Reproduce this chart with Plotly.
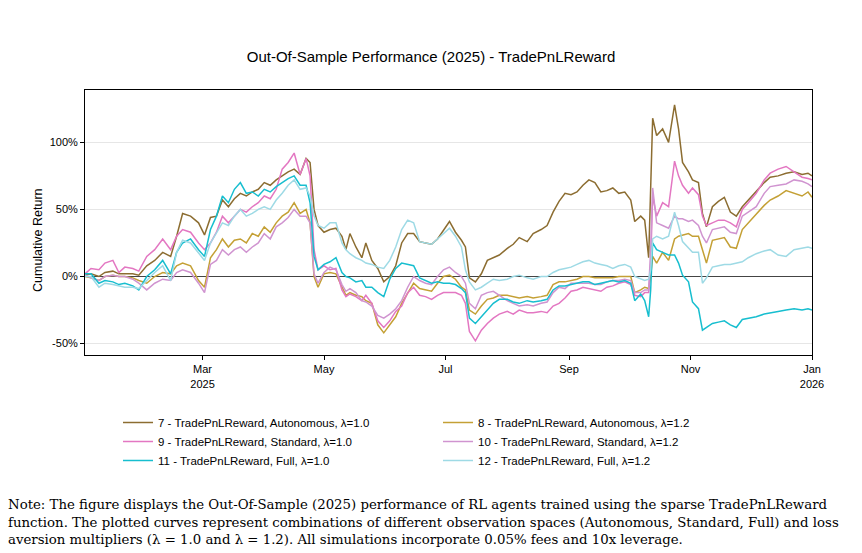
import pandas as pd
import plotly.graph_objects as go

# day offsets from 2025-01-01
days = [0,3,7,10,14,17,20,24,27,31,
        35,39,43,46,49,53,57,60,63,66,
        69,72,75,78,81,84,87,90,93,96,
        99,102,105,108,111,113,115,117,120,123,
        126,129,131,133,136,139,141,144,147,150,
        153,156,159,162,165,168,171,174,177,180,
        183,186,189,191,193,196,199,202,205,208,
        212,215,218,222,225,229,232,235,238,241,
        244,247,250,253,256,259,262,265,268,271,
        274,276,279,281,283,284,285,287,290,293,
        296,298,300,303,305,308,310,312,315,318,
        321,324,327,330,333,337,341,344,348,352,
        356,360,363,365]

s7 = [1,2,0,3,4,2,2,2,1,8,
      12,18,15,30,47,45,40,31,44,45,
      57,52,58,62,60,63,65,70,68,72,
      75,78,80,76,88,85,50,38,33,35,
      36,30,20,32,22,14,25,12,6,-4,
      0,8,25,32,32,26,25,24,28,35,
      41,33,27,22,-1,-4,2,12,14,16,
      21,24,29,26,32,35,38,48,56,62,
      61,63,68,72,70,63,64,66,62,63,
      57,41,45,42,14,65,118,105,110,100,
      128,110,85,78,72,70,47,37,52,56,
      59,48,45,52,57,64,70,74,75,77,
      78,76,77,75]
s8 = [0,-1,-3,0,1,0,0,-1,-3,-5,
      0,3,2,8,10,8,-3,-8,14,20,
      28,22,27,28,25,32,30,37,33,40,
      45,48,55,47,50,40,0,-8,2,3,
      2,-8,-14,-12,-14,-15,-18,-20,-36,-42,
      -36,-30,-20,-12,-5,-9,-10,-11,-5,0,
      1,-2,-8,-10,-25,-28,-22,-17,-16,-14,
      -14,-15,-16,-15,-16,-15,-14,-6,-4,-4,
      -3,-2,0,0,-1,-1,-1,-1,0,0,
      0,-12,-10,-8,-9,0,15,10,18,12,
      28,30,31,32,30,30,20,10,27,28,
      29,22,21,35,40,47,53,57,60,64,
      62,60,63,59]
s9 = [2,6,5,10,12,3,7,6,4,15,
      20,28,20,30,35,33,25,20,25,33,
      45,40,45,50,48,52,55,60,58,65,
      80,85,92,76,88,75,20,5,8,5,
      6,-10,-15,-13,-15,-18,-14,-20,-33,-38,
      -33,-26,-22,-12,-8,-14,-15,-17,-14,-12,
      -12,-12,-14,-20,-41,-48,-40,-35,-31,-28,
      -26,-28,-25,-27,-27,-26,-27,-22,-20,-16,
      -11,-10,-8,-9,-10,-11,-8,-7,-5,-4,
      -6,-14,-15,-12,-12,10,60,45,55,52,
      86,75,68,62,66,61,45,38,40,42,
      42,40,37,50,55,62,72,77,80,82,
      78,74,73,72]
s10 = [1,-1,-3,0,1,0,0,-2,-5,-10,
       -5,-2,-3,3,5,3,-5,-12,9,12,
       20,16,20,22,18,22,25,32,28,37,
       40,44,50,45,45,40,2,-5,3,7,
       5,-6,-11,-9,-12,-18,-19,-22,-29,-31,
       -28,-24,-18,-8,0,-3,-5,-6,0,5,
       7,3,0,-5,-20,-24,-14,-12,-11,-14,
       -18,-20,-22,-21,-22,-20,-19,-12,-8,-9,
       -5,-5,-5,-5,-6,-6,-4,-3,-3,-2,
       -3,-12,-12,-10,-10,20,66,40,38,36,
       45,43,43,41,42,38,30,25,35,36,
       37,33,32,45,48,52,62,67,68,69,
       72,71,69,67]
s11 = [2,2,-5,-3,-4,-6,-5,-7,-10,0,
       5,12,2,18,25,28,20,15,35,45,
       60,55,65,70,62,63,60,65,63,67,
       70,73,75,68,68,55,15,5,9,11,
       14,3,0,-1,-4,-3,-8,-8,-12,-15,
       -2,6,10,9,8,-1,-3,-5,-4,-5,
       -5,-6,-9,-12,-31,-35,-30,-25,-20,-17,
       -17,-19,-20,-18,-19,-18,-17,-10,-7,-7,
       -6,-5,-4,-4,-6,-5,-4,-3,-4,-3,
       -5,-18,-13,-18,-30,-10,25,20,18,16,
       16,10,1,-4,-19,-24,-40,-38,-35,-34,
       -33,-36,-38,-32,-31,-30,-28,-27,-26,-25,
       -24,-25,-24,-25]
s12 = [0,0,-8,-5,-6,-7,-8,-8,-9,-3,
       3,8,-3,18,27,25,18,12,25,33,
       40,38,45,50,45,47,50,52,50,57,
       62,68,72,65,66,60,45,38,36,40,
       40,25,20,17,14,12,10,9,7,6,
       12,22,35,42,40,26,25,24,28,32,
       36,30,22,5,-4,-10,-8,-5,-2,-3,
       -2,0,1,-1,-2,0,0,3,5,6,
       7,9,11,12,10,9,8,6,8,9,
       7,0,-2,-3,-2,5,28,30,28,30,
       48,38,26,21,18,18,-5,-1,7,8,
       9,9,10,11,14,17,19,20,16,15,
       20,21,22,21]

names = ["7 - TradePnLReward, Autonomous, λ=1.0",
         "8 - TradePnLReward, Autonomous, λ=1.2",
         "9 - TradePnLReward, Standard, λ=1.0",
         "10 - TradePnLReward, Standard, λ=1.2",
         "11 - TradePnLReward, Full, λ=1.0",
         "12 - TradePnLReward, Full, λ=1.2"]
series = [s7, s8, s9, s10, s11, s12]
colors = ["#8c6d31", "#c4a035", "#e377c2", "#d094d0", "#17becf", "#9edae5"]

ytick_vals = [-50, 0, 50, 100]
ytick_text = ["-50%", "0%", "50%", "100%"]
xtick_dates = ["2025-03-01", "2025-05-01", "2025-07-01", "2025-09-01", "2025-11-01", "2026-01-01"]
xtick_text = ["Mar<br>2025", "May", "Jul", "Sep", "Nov", "Jan<br>2026"]

dates = pd.Timestamp("2025-01-01") + pd.to_timedelta(days, unit="D")

fig = go.Figure()
for nm, s, c in zip(names, series, colors):
    fig.add_trace(go.Scatter(x=dates, y=s, mode="lines", name=nm,
                             line=dict(color=c, width=1.5)))

fig.update_layout(
    width=862, height=553,
    margin=dict(l=85, r=50, t=90, b=198),
    paper_bgcolor="white", plot_bgcolor="white",
    font=dict(family="Liberation Sans, Arial, sans-serif", color="black", size=11),
    title=dict(text="Out-Of-Sample Performance (2025) - TradePnLReward",
               x=0.5, xref="container", xanchor="center",
               y=1 - 57/553, yref="container", yanchor="middle",
               font=dict(size=15, color="black")),
    showlegend=True,
    legend=dict(orientation="h", x=(118-85)/727, xanchor="left",
                y=(355-408)/265, yanchor="top",
                entrywidth=275, entrywidthmode="pixels",
                font=dict(size=11.5), bgcolor="rgba(0,0,0,0)"),
)
fig.update_xaxes(range=["2025-01-01", "2026-01-01"],
                 tickvals=xtick_dates, ticktext=xtick_text,
                 showgrid=False, showline=True, linecolor="black", linewidth=1,
                 mirror=True, ticks="outside", ticklen=4, tickcolor="black",
                 tickfont=dict(size=11), zeroline=False)
fig.update_yaxes(range=[-58.5, 139], tickvals=ytick_vals, ticktext=ytick_text,
                 showgrid=True, gridcolor="#e6e6e6", gridwidth=1,
                 zeroline=True, zerolinecolor="#444444", zerolinewidth=1.3,
                 showline=True, linecolor="black", linewidth=1, mirror=True,
                 ticks="outside", ticklen=4, tickcolor="black",
                 tickfont=dict(size=11))

fig.add_annotation(text="Cumulative Return", xref="paper", yref="paper",
                   x=(38-85)/727, y=(355-240)/265, xanchor="center", yanchor="middle",
                   textangle=-90, showarrow=False, font=dict(size=12.5))

note_lines = [
    "Note: The figure displays the Out-Of-Sample (2025) performance of RL agents trained using the sparse TradePnLReward",
    "function. The plotted curves represent combinations of different observation spaces (Autonomous, Standard, Full) and loss",
    "aversion multipliers (λ = 1.0 and λ = 1.2). All simulations incorporate 0.05% fees and 10x leverage.",
]
for i, ln in enumerate(note_lines):
    fig.add_annotation(text=ln, xref="paper", yref="paper",
                       x=(6-85)/727, y=(355-(505+17*i))/265,
                       xanchor="left", yanchor="middle", showarrow=False,
                       font=dict(family="DejaVu Serif, Liberation Serif, serif", size=13.3, color="black"))

fig.write_html("out.html")
